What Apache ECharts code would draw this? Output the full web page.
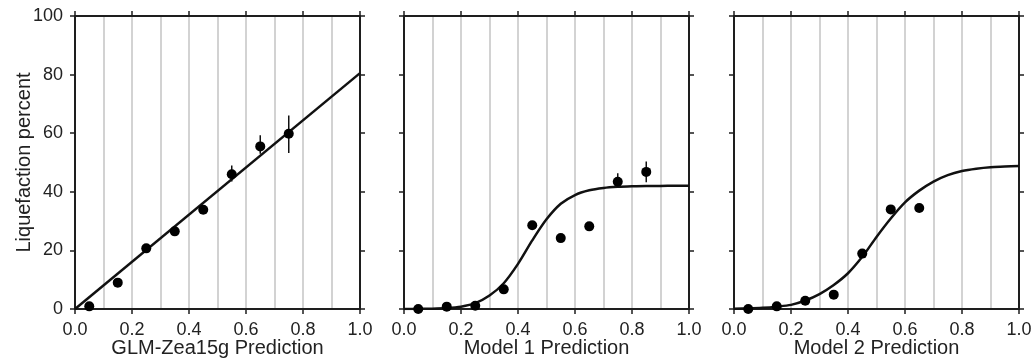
<!DOCTYPE html>
<html>
<head>
<meta charset="utf-8">
<script src="https://cdn.jsdelivr.net/npm/echarts@6/dist/echarts.min.js"></script>
<style>
html,body{margin:0;padding:0;background:#fff;}
#c{width:1031px;height:362px;}
</style>
</head>
<body>
<div id="c"></div>
<script>
// ---- data ----
const panelTitles = ['GLM-Zea15g Prediction', 'Model 1 Prediction', 'Model 2 Prediction'];
const yTitle = 'Liquefaction percent';

const obsX1 = [0.05, 0.15, 0.25, 0.35, 0.45, 0.55, 0.65, 0.75];
const obsY1 = [0.9, 9.0, 20.7, 26.5, 33.9, 46.0, 55.5, 59.8];
const errX1 = [0.45, 0.55, 0.65, 0.75];
const errLo1 = [32.8, 43.5, 53.0, 53.2];
const errHi1 = [35.2, 49.0, 59.3, 66.0];
const fitX1 = [0.0, 1.0];
const fitY1 = [0.0, 80.5];

const obsX2 = [0.05, 0.15, 0.25, 0.35, 0.45, 0.55, 0.65, 0.75, 0.85];
const obsY2 = [0.0, 0.8, 1.1, 6.7, 28.6, 24.2, 28.2, 43.4, 46.8];
const errX2 = [0.75, 0.85];
const errLo2 = [41.5, 43.3];
const errHi2 = [46.3, 50.3];
const fitX2 = [0.0, 0.05, 0.1, 0.15, 0.2, 0.25, 0.3, 0.35, 0.4, 0.45, 0.5, 0.55, 0.6, 0.65, 0.7, 0.75, 0.8, 0.85, 0.9, 0.95, 1.0];
const fitY2 = [0.0, 0.05, 0.1, 0.3, 0.8, 2.0, 4.6, 8.8, 15.4, 23.4, 30.6, 35.9, 38.9, 40.5, 41.3, 41.7, 41.9, 42.0, 42.0, 42.1, 42.1];

const obsX3 = [0.05, 0.15, 0.25, 0.35, 0.45, 0.55, 0.65];
const obsY3 = [0.0, 0.9, 2.8, 4.9, 18.9, 34.0, 34.5];
const fitX3 = [0.0, 0.05, 0.1, 0.15, 0.2, 0.25, 0.3, 0.35, 0.4, 0.45, 0.5, 0.55, 0.6, 0.65, 0.7, 0.75, 0.8, 0.85, 0.9, 0.95, 1.0];
const fitY3 = [0.1, 0.2, 0.4, 0.8, 1.4, 2.9, 5.1, 8.2, 12.2, 17.8, 24.6, 30.9, 36.4, 40.4, 43.5, 45.7, 47.1, 47.9, 48.4, 48.6, 48.8];

const xTickLabels = ['0.0', '0.2', '0.4', '0.6', '0.8', '1.0'];
const yTickLabels = ['0', '20', '40', '60', '80', '100'];

// ---- layout ----
const FONT = '"Liberation Sans", Arial, Helvetica, sans-serif';
const AXC = '#1e1e1e';
const panelLeft = [75, 404, 734];
const panelW = 285, panelTop = 16, panelH = 293;

const panels = [
  {obsX: obsX1, obsY: obsY1, errX: errX1, errLo: errLo1, errHi: errHi1, fitX: fitX1, fitY: fitY1},
  {obsX: obsX2, obsY: obsY2, errX: errX2, errLo: errLo2, errHi: errHi2, fitX: fitX2, fitY: fitY2},
  {obsX: obsX3, obsY: obsY3, errX: [], errLo: [], errHi: [], fitX: fitX3, fitY: fitY3}
];

const grid = [], xAxis = [], yAxis = [], series = [];
const axLine = {show: true, onZero: false, lineStyle: {color: AXC, width: 2}};
const tick = {show: true, inside: false, length: 5, lineStyle: {color: AXC, width: 1.5}};

panels.forEach((p, i) => {
  grid.push({left: panelLeft[i], top: panelTop, width: panelW, height: panelH,
    containLabel: false, outerBoundsMode: 'none'});
  // bottom x
  xAxis.push({
    type: 'value', gridIndex: i, min: 0, max: 1, interval: 0.2, position: 'bottom',
    axisLine: axLine, axisTick: tick,
    axisLabel: {show: true, margin: 12, color: '#222', fontFamily: FONT, fontSize: 18,
      formatter: v => xTickLabels[Math.round(v / 0.2)]},
    splitLine: {show: true, lineStyle: {color: '#c4c4c4', width: 1.5}},
    minorTick: {show: false, splitNumber: 2},
    minorSplitLine: {show: true, lineStyle: {color: '#c4c4c4', width: 1.5}},
    name: panelTitles[i], nameLocation: 'middle', nameGap: 29, nameMoveOverlap: false,
    nameTextStyle: {color: '#222', fontFamily: FONT, fontSize: 20}
  });
  // top x
  xAxis.push({
    type: 'value', gridIndex: i, min: 0, max: 1, interval: 0.2, position: 'top',
    axisLine: axLine, axisTick: tick, axisLabel: {show: false}, splitLine: {show: false}
  });
  // left y
  yAxis.push({
    type: 'value', gridIndex: i, min: 0, max: 100, interval: 20, position: 'left',
    axisLine: axLine, axisTick: tick,
    axisLabel: {show: i === 0, margin: 12, color: '#222', fontFamily: FONT, fontSize: 18,
      formatter: v => yTickLabels[Math.round(v / 20)]},
    splitLine: {show: false},
    name: i === 0 ? yTitle : '', nameLocation: 'middle', nameGap: 41, nameMoveOverlap: false,
    nameTextStyle: {color: '#222', fontFamily: FONT, fontSize: 20}
  });
  // right y
  yAxis.push({
    type: 'value', gridIndex: i, min: 0, max: 100, interval: 20, position: 'right',
    axisLine: axLine, axisTick: tick, axisLabel: {show: false}, splitLine: {show: false}
  });

  const xi = i * 2, yi = i * 2;
  series.push({
    type: 'line', xAxisIndex: xi, yAxisIndex: yi, smooth: 0.3, symbol: 'none',
    lineStyle: {color: '#111', width: 2.5}, z: 3,
    data: p.fitX.map((x, k) => [x, p.fitY[k]])
  });
  series.push({
    type: 'custom', xAxisIndex: xi, yAxisIndex: yi, z: 4,
    data: p.errX.map((x, k) => [x, p.errLo[k], p.errHi[k]]),
    renderItem: (params, api) => {
      const a = api.coord([api.value(0), api.value(1)]);
      const b = api.coord([api.value(0), api.value(2)]);
      return {type: 'line', shape: {x1: a[0], y1: a[1], x2: b[0], y2: b[1]},
        style: {stroke: '#111', lineWidth: 1.5}};
    }
  });
  series.push({
    type: 'scatter', xAxisIndex: xi, yAxisIndex: yi, symbol: 'circle', symbolSize: 10,
    itemStyle: {color: '#000', opacity: 1}, z: 5,
    data: p.obsX.map((x, k) => [x, p.obsY[k]])
  });
});

const chart = echarts.init(document.getElementById('c'), null, {renderer: 'canvas'});
chart.setOption({animation: false, backgroundColor: '#fff', grid, xAxis, yAxis, series});
</script>
</body>
</html>
